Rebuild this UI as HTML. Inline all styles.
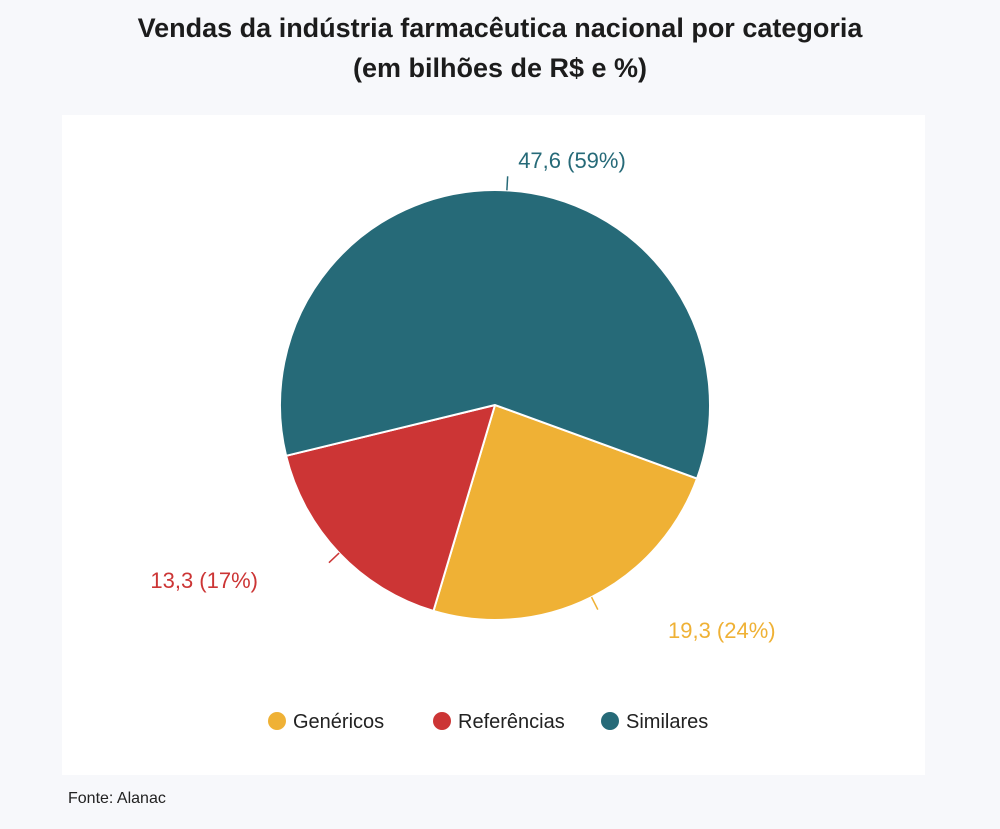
<!DOCTYPE html>
<html><head><meta charset="utf-8"><style>
body{margin:0;width:1000px;height:829px;background:#f7f8fb;font-family:"Liberation Sans",sans-serif;overflow:hidden;position:relative}
#title{position:absolute;top:8px;left:0;width:1000px;text-align:center;font-weight:bold;font-size:27px;line-height:40px;color:#1c1c1c}
#panel{position:absolute;left:62px;top:115px;width:863px;height:660px;background:#fff}
#src{position:absolute;left:68px;top:790px;font-size:16px;color:#222}
</style></head><body>
<div id="title">Vendas da indústria farmacêutica nacional por categoria<br>(em bilhões de R$ e %)</div>
<div id="panel"></div>
<svg id="chart" width="1000" height="829" style="position:absolute;left:0;top:0"></svg>
<div id="src">Fonte: Alanac</div>
<script>
const categories=["Genéricos","Referências","Similares"];
const values=[19.3,13.3,47.6];
const labels=["19,3 (24%)","13,3 (17%)","47,6 (59%)"];
const colors=["#efb135","#cc3535","#266a78"];
const svg=document.getElementById('chart');
const NS="http://www.w3.org/2000/svg";
const cx=495,cy=405,r=215,start=110;
const total=values.reduce((a,b)=>a+b,0);
const labelPos=[[668,630,"start"],[258,580,"end"],[572,160,"middle"]];
function pt(deg,rad){const a=(deg-90)*Math.PI/180;return [cx+rad*Math.cos(a),cy+rad*Math.sin(a)];}
let ang=start;
values.forEach((v,i)=>{
 const sweep=v/total*360;const a0=ang,a1=ang+sweep;ang=a1;
 const p0=pt(a0,r),p1=pt(a1,r);
 const path=document.createElementNS(NS,'path');
 path.setAttribute('d',`M${cx},${cy}L${p0[0]},${p0[1]}A${r},${r} 0 ${sweep>180?1:0} 1 ${p1[0]},${p1[1]}Z`);
 path.setAttribute('fill',colors[i]);path.setAttribute('stroke','#fff');path.setAttribute('stroke-width','2');
 
 
 svg.appendChild(path);
 const mid=(a0+a1)/2;const q0=pt(mid,r),q1=pt(mid,r+14);
 const ln=document.createElementNS(NS,'line');
 ln.setAttribute('x1',q0[0]);ln.setAttribute('y1',q0[1]);ln.setAttribute('x2',q1[0]);ln.setAttribute('y2',q1[1]);
 ln.setAttribute('stroke',colors[i]);ln.setAttribute('stroke-width','1.5');
 
 
 svg.appendChild(ln);
 const t=document.createElementNS(NS,'text');
 const lp=labelPos[i];
 t.setAttribute('x',lp[0]);t.setAttribute('y',lp[1]+8);t.setAttribute('text-anchor',lp[2]);
 t.setAttribute('font-size','22');t.setAttribute('fill',colors[i]);t.setAttribute('font-family','Liberation Sans, sans-serif');
 t.textContent=labels[i];
 
 
 svg.appendChild(t);
});
const legX=[267,432,600];
categories.forEach((c,i)=>{
 const g=document.createElementNS(NS,'g');
 
 
 const ci=document.createElementNS(NS,'circle');
 ci.setAttribute('cx',legX[i]+10);ci.setAttribute('cy',721);ci.setAttribute('r',9);ci.setAttribute('fill',colors[i]);
 g.appendChild(ci);
 const t=document.createElementNS(NS,'text');
 t.setAttribute('x',legX[i]+26);t.setAttribute('y',728);t.setAttribute('font-size','20');t.setAttribute('fill','#222');
 t.setAttribute('font-family','Liberation Sans, sans-serif');
 t.textContent=c;g.appendChild(t);
 svg.appendChild(g);
});
</script>
</body></html>
